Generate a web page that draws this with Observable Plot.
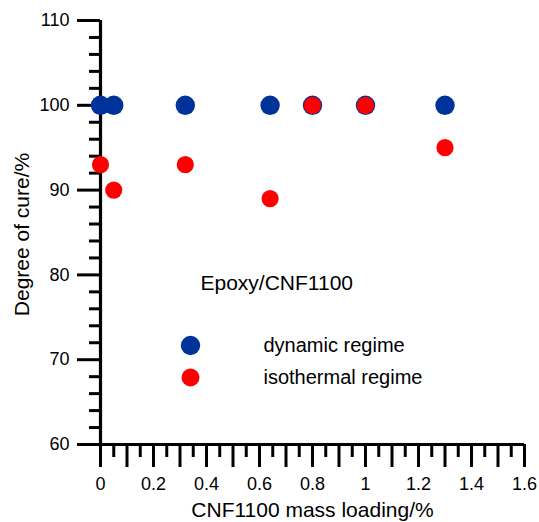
<!DOCTYPE html>
<html>
<head>
<meta charset="utf-8">
<script src="https://cdn.jsdelivr.net/npm/d3@7"></script>
<script src="https://cdn.jsdelivr.net/npm/@observablehq/plot@0.6"></script>
<style>
  html, body { margin: 0; padding: 0; background: #fff; }
  #chart svg { font-family: "Liberation Sans", Arial, Helvetica, sans-serif; }
</style>
</head>
<body>
<div id="chart"></div>
<script>
// CNF1100 mass loading (%) and degree of cure (%) for the two curing regimes
const loading = [0, 0.05, 0.32, 0.64, 0.8, 1.0, 1.3];
const dynamicCure = [100, 100, 100, 100, 100, 100, 100];
const isothermalCure = [93, 90, 93, 89, 100, 100, 95];

const xMajorTicks = [0, 0.1, 0.2, 0.3, 0.4, 0.5, 0.6, 0.7, 0.8, 0.9, 1.0, 1.1, 1.2, 1.3, 1.4, 1.5, 1.6];
const xLabelTicks = [0, 0.2, 0.4, 0.6, 0.8, 1.0, 1.2, 1.4, 1.6];
const xMinorTicks = [0.05, 0.15, 0.25, 0.35, 0.45, 0.55, 0.65, 0.75, 0.85, 0.95, 1.05, 1.15, 1.25, 1.35, 1.45, 1.55];
const yMajorTicks = [60, 70, 80, 90, 100, 110];
const yMinorTicks = [62, 64, 66, 68, 72, 74, 76, 78, 82, 84, 86, 88, 92, 94, 96, 98, 102, 104, 106, 108];

const blue = "#003399";
const red = "#ff0000";

const legendItems = [
  {label: "dynamic regime", color: blue, r: 9.7},
  {label: "isothermal regime", color: red, r: 9}
];

const dynamic = loading.map((x, i) => ({x, y: dynamicCure[i]}));
const isothermal = loading.map((x, i) => ({x, y: isothermalCure[i]}));

// label only every other major tick
const fmt = d => (xLabelTicks.some(t => Math.abs(t - d) < 1e-9) ? d3.format("~g")(+d.toFixed(1)) : "");

// legend rows: a dot and its label, stacked below the annotation
const legendMarks = legendItems.flatMap((d, i) => [
  Plot.dot([d], {frameAnchor: "top-left", dx: 90, dy: 325 + 32 * i, fill: d.color, r: d.r}),
  Plot.text([d.label], {frameAnchor: "top-left", dx: 163, dy: 325 + 32 * i, fontSize: 20, textAnchor: "start", lineAnchor: "middle"})
]);

const chart = Plot.plot({
  width: 539,
  height: 522,
  marginLeft: 100,
  marginRight: 15,
  marginTop: 20,
  marginBottom: 78,
  style: {fontSize: "18px", fontFamily: "Liberation Sans, Arial, sans-serif", color: "#000", background: "#fff"},
  x: {domain: [0, 1.6]},
  y: {domain: [60, 110]},
  marks: [
    // minor ticks
    Plot.axisX(xMinorTicks, {tickSize: 13, strokeWidth: 3, text: null, label: null}),
    Plot.axisY(yMinorTicks, {tickSize: 11, strokeWidth: 3, text: null, label: null}),
    // major ticks with labels
    Plot.axisX(xMajorTicks, {tickSize: 23, tickPadding: 10, strokeWidth: 3, tickFormat: fmt, fontSize: 18, label: null}),
    Plot.axisY(yMajorTicks, {tickSize: 23, tickPadding: 8, strokeWidth: 3, fontSize: 18, label: null}),
    // axis lines
    Plot.ruleY([60], {strokeWidth: 3.2, stroke: "#000"}),
    Plot.ruleX([0], {strokeWidth: 3.2, stroke: "#000"}),
    // data
    Plot.dot(dynamic, {x: "x", y: "y", r: 9.7, fill: blue}),
    Plot.dot(isothermal, {x: "x", y: "y", r: 8.6, fill: red}),
    // axis titles
    Plot.text(["CNF1100 mass loading/%"], {frameAnchor: "bottom", dy: 72, fontSize: 21, lineAnchor: "bottom"}),
    Plot.text(["Degree of cure/%"], {frameAnchor: "left", dx: -78, dy: 2, rotate: -90, fontSize: 21, textAnchor: "middle", lineAnchor: "middle"}),
    // in-plot annotation and legend
    Plot.text(["Epoxy/CNF1100"], {frameAnchor: "top-left", dx: 100, dy: 263, fontSize: 21, textAnchor: "start", lineAnchor: "middle"}),
    ...legendMarks
  ]
});

document.getElementById("chart").append(chart);
</script>
</body>
</html>
